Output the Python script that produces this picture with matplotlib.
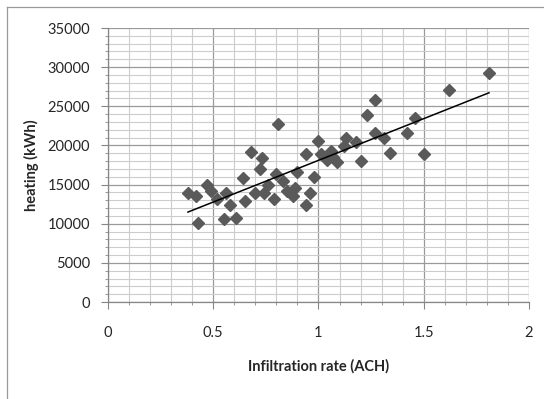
import matplotlib.pyplot as plt
import numpy as np
from matplotlib.ticker import MultipleLocator

# infiltration rate (ACH) and heating demand (kWh)
ach = [0.38, 0.42, 0.43, 0.47, 0.49, 0.52, 0.55, 0.56, 0.58, 0.61,
       0.64, 0.65, 0.68, 0.70, 0.72, 0.73, 0.74, 0.76, 0.79, 0.80,
       0.81, 0.83, 0.85, 0.88, 0.89, 0.90, 0.94, 0.94, 0.96, 0.98,
       1.00, 1.01, 1.04, 1.06, 1.07, 1.09, 1.12, 1.13, 1.18, 1.20,
       1.23, 1.27, 1.27, 1.31, 1.34, 1.42, 1.46, 1.50, 1.62, 1.81]
heating = [13950, 13500, 10100, 14950, 14200, 13100, 10600, 13950, 12400, 10700,
           15900, 12950, 19200, 13900, 17000, 18450, 13900, 14950, 13100, 16300,
           22750, 15450, 14200, 13550, 14550, 16650, 18850, 12400, 13950, 16000,
           20600, 18900, 18150, 19300, 18550, 17850, 19900, 20950, 20400, 17950,
           23900, 21650, 25850, 21000, 19000, 21650, 23450, 18850, 27100, 29250]

x_ticks = [0, 0.5, 1, 1.5, 2]
y_ticks = [0, 5000, 10000, 15000, 20000, 25000, 30000, 35000]

label_font = "Lato"

fig = plt.figure(figsize=(5.44, 3.99), dpi=100)
fig.patch.set_facecolor("white")
ax = fig.add_axes([0.1985, 0.2431, 0.7739, 0.6867])

ax.set_xlim(0, 2)
ax.set_ylim(0, 35000)
ax.set_xticks(x_ticks)
ax.set_yticks(y_ticks)
ax.set_xticklabels([f"{t:g}" for t in x_ticks], fontsize=10.5, family=label_font, color="#262626")
ax.set_yticklabels([f"{t:d}" for t in y_ticks], fontsize=10.5, family=label_font, color="#262626")
ax.xaxis.set_minor_locator(MultipleLocator(0.1))
ax.yaxis.set_minor_locator(MultipleLocator(1000))

ax.grid(which="minor", color="#cccccc", linewidth=0.8)
ax.grid(which="major", color="#9a9a9a", linewidth=0.9)
ax.set_axisbelow(True)

for side in ["top", "right"]:
    ax.spines[side].set_visible(False)
for side in ["left", "bottom"]:
    ax.spines[side].set_color("#868686")
    ax.spines[side].set_linewidth(0.9)

ax.tick_params(which="major", direction="out", length=5, width=0.8, color="#868686")
ax.tick_params(which="minor", direction="out", length=2.5, width=0.6, color="#868686")
ax.tick_params(axis="y", which="major", pad=8)
ax.tick_params(axis="x", which="major", pad=12)

ax.plot(ach, heating, linestyle="none", marker="D", markersize=6.3,
        markerfacecolor="#5a5a5a", markeredgecolor="#5a5a5a", zorder=3)

# linear trendline through the points
slope, intercept = np.polyfit(ach, heating, 1)
x_fit = np.array([min(ach), max(ach)])
ax.plot(x_fit, slope * x_fit + intercept, color="black", linewidth=1.1, zorder=4)

ax.set_xlabel("Infiltration rate (ACH)", fontsize=10.5, fontweight="bold",
              family=label_font, color="#262626", labelpad=14)
ax.set_ylabel("heating (kWh)", fontsize=10.5, fontweight="bold",
              family=label_font, color="#262626", labelpad=6)

# chart area border (left and top edges visible in the crop)
fig.add_artist(plt.Line2D([7 / 544, 7 / 544], [0, 1 - 7 / 399], color="#9a9a9a", linewidth=0.9))
fig.add_artist(plt.Line2D([7 / 544, 1], [1 - 7 / 399, 1 - 7 / 399], color="#9a9a9a", linewidth=0.9))

fig.savefig("out.png", dpi=100, facecolor=fig.get_facecolor())
